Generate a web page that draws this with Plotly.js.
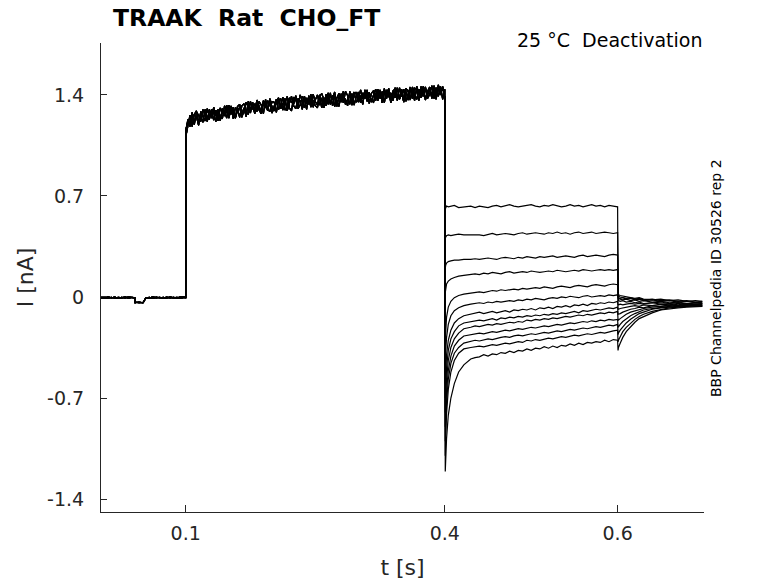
<!DOCTYPE html>
<html>
<head>
<meta charset="utf-8">
<script src="https://cdn.plot.ly/plotly-3.0.1.min.js"></script>
<style>
  body { margin: 0; background: #fff; }
  #plot { width: 778px; height: 583px; }
</style>
</head>
<body>
<div id="plot"></div>
<script>
//Time points of the holding period before the step (s)
var tHold = [0.002,0.006,0.01,0.014,0.018,0.022,0.026,0.03,0.034,0.038,0.041,0.0415,0.046,0.0505,0.051,0.054,0.058,0.062,0.066,0.07,0.074,0.078,0.082,0.086,0.09,0.094,0.098,0.1];
//Holding current (nA), two sweeps are enough, they overlap
var holdA = [-0.002,-0.008,0.0,-0.006,-0.001,-0.009,-0.003,-0.007,0.001,-0.005,-0.004,-0.036,-0.04,-0.035,-0.038,-0.004,-0.008,0.0,-0.006,-0.002,-0.009,-0.001,-0.007,-0.003,-0.008,0.0,-0.005,-0.003];
var holdB = [-0.007,-0.001,-0.009,-0.002,-0.008,-0.003,-0.006,0.0,-0.009,-0.002,-0.006,-0.04,-0.035,-0.041,-0.036,-0.007,-0.002,-0.009,-0.001,-0.007,-0.003,-0.008,0.0,-0.006,-0.002,-0.009,-0.003,-0.006];

//Time points of the activating step (s)
var tStep = [0.1005,
    0.1025,0.105,0.1075,0.11,0.1125,0.115,0.1175,0.12,
    0.1225,0.125,0.1275,0.13,0.1325,0.135,0.1375,0.14,
    0.1425,0.145,0.1475,0.15,0.1525,0.155,0.1575,0.16,
    0.1625,0.165,0.1675,0.17,0.1725,0.175,0.1775,0.18,
    0.1825,0.185,0.1875,0.19,0.1925,0.195,0.1975,0.2,
    0.2025,0.205,0.2075,0.21,0.2125,0.215,0.2175,0.22,
    0.2225,0.225,0.2275,0.23,0.2325,0.235,0.2375,0.24,
    0.2425,0.245,0.2475,0.25,0.2525,0.255,0.2575,0.26,
    0.2625,0.265,0.2675,0.27,0.2725,0.275,0.2775,0.28,
    0.2825,0.285,0.2875,0.29,0.2925,0.295,0.2975,0.3,
    0.3025,0.305,0.3075,0.31,0.3125,0.315,0.3175,0.32,
    0.3225,0.325,0.3275,0.33,0.3325,0.335,0.3375,0.34,
    0.3425,0.345,0.3475,0.35,0.3525,0.355,0.3575,0.36,
    0.3625,0.365,0.3675,0.37,0.3725,0.375,0.3775,0.38,
    0.3825,0.385,0.3875,0.39,0.3925,0.395,0.3975,0.4];
//Step current (nA), the sweeps all lie in one noisy band
var stepA = [1.15,
    1.23,1.18,1.28,1.215,1.25,1.19,1.285,1.25,
    1.22,1.305,1.25,1.28,1.225,1.295,1.22,1.31,
    1.285,1.255,1.33,1.24,1.305,1.285,1.24,1.32,
    1.335,1.265,1.31,1.25,1.355,1.295,1.33,1.27,
    1.345,1.295,1.27,1.36,1.33,1.29,1.375,1.315,
    1.29,1.35,1.38,1.305,1.335,1.375,1.29,1.35,
    1.39,1.325,1.305,1.375,1.36,1.30,1.39,1.34,
    1.375,1.315,1.405,1.355,1.33,1.40,1.31,1.38,
    1.355,1.415,1.335,1.395,1.32,1.38,1.41,1.35,
    1.425,1.335,1.375,1.405,1.33,1.40,1.42,1.35,
    1.395,1.335,1.435,1.365,1.42,1.35,1.40,1.44,
    1.36,1.435,1.345,1.415,1.395,1.445,1.355,1.43,
    1.38,1.45,1.37,1.41,1.35,1.445,1.425,1.365,
    1.455,1.40,1.37,1.44,1.39,1.46,1.365,1.425,
    1.455,1.385,1.435,1.37,1.47,1.41,1.45,1.38];
var stepB = [1.12,
    1.18,1.26,1.18,1.265,1.29,1.21,1.255,1.21,
    1.30,1.245,1.23,1.30,1.275,1.215,1.30,1.25,
    1.235,1.325,1.28,1.25,1.325,1.235,1.31,1.30,
    1.245,1.325,1.34,1.28,1.265,1.355,1.30,1.34,
    1.285,1.355,1.33,1.27,1.37,1.30,1.285,1.355,
    1.35,1.28,1.36,1.375,1.295,1.345,1.39,1.31,
    1.29,1.385,1.365,1.315,1.40,1.36,1.31,1.38,
    1.335,1.405,1.315,1.365,1.40,1.33,1.38,1.31,
    1.405,1.335,1.415,1.325,1.39,1.36,1.32,1.41,
    1.345,1.425,1.395,1.335,1.41,1.33,1.39,1.42,
    1.345,1.415,1.375,1.435,1.34,1.41,1.43,1.36,
    1.44,1.375,1.425,1.345,1.435,1.385,1.415,1.36,
    1.43,1.36,1.45,1.39,1.44,1.355,1.405,1.455,
    1.375,1.45,1.43,1.36,1.46,1.39,1.445,1.375,
    1.405,1.465,1.375,1.45,1.39,1.46,1.37,1.44];
var stepC = [1.17,
    1.21,1.21,1.25,1.195,1.28,1.26,1.215,1.30,
    1.25,1.215,1.30,1.24,1.315,1.255,1.29,1.22,
    1.305,1.285,1.24,1.33,1.265,1.315,1.24,1.29,
    1.315,1.245,1.29,1.35,1.315,1.275,1.35,1.29,
    1.365,1.315,1.28,1.34,1.31,1.36,1.335,1.275,
    1.32,1.37,1.30,1.325,1.385,1.295,1.32,1.38,
    1.35,1.335,1.395,1.305,1.33,1.39,1.37,1.30,
    1.395,1.345,1.365,1.325,1.31,1.39,1.41,1.36,
    1.325,1.385,1.355,1.375,1.42,1.32,1.39,1.37,
    1.395,1.365,1.325,1.425,1.38,1.42,1.35,1.37,
    1.435,1.375,1.415,1.355,1.40,1.36,1.35,1.41,
    1.38,1.405,1.365,1.445,1.375,1.425,1.345,1.42,
    1.45,1.39,1.38,1.44,1.37,1.425,1.365,1.435,
    1.425,1.36,1.46,1.41,1.38,1.42,1.455,1.395,
    1.445,1.375,1.465,1.41,1.44,1.40,1.46,1.38];

//Time points of the deactivation step (s)
var tTail = [0.4005,0.401,0.402,0.404,0.407,0.411,0.416,0.422,0.43,0.435,0.44,0.445,0.45,0.455,0.46,0.465,0.47,0.475,0.48,0.485,0.49,0.495,0.5,0.505,0.51,0.515,0.52,0.525,0.53,0.535,0.54,0.545,0.55,0.555,0.56,0.565,0.57,0.575,0.58,0.585,0.59,0.595,0.6];
//Tail current of each sweep (nA)
var tail1 = [0.61,0.62,0.63,0.625,0.63,0.635,0.62,0.625,0.63,0.62,0.63,0.625,0.62,0.63,0.635,0.625,0.63,0.64,0.63,0.625,0.63,0.635,0.64,0.63,0.625,0.635,0.63,0.64,0.63,0.625,0.63,0.64,0.63,0.635,0.625,0.63,0.64,0.63,0.635,0.625,0.635,0.63,0.625];
var tail2 = [0.41,0.42,0.425,0.43,0.425,0.43,0.435,0.43,0.43,0.435,0.43,0.425,0.435,0.44,0.43,0.435,0.44,0.435,0.43,0.44,0.445,0.435,0.44,0.445,0.44,0.435,0.445,0.44,0.45,0.44,0.445,0.435,0.445,0.45,0.44,0.445,0.45,0.44,0.445,0.45,0.445,0.44,0.445];
var tail3 = [0.2,0.22,0.235,0.245,0.25,0.255,0.255,0.26,0.26,0.265,0.26,0.265,0.27,0.265,0.26,0.27,0.275,0.27,0.265,0.275,0.27,0.28,0.275,0.27,0.28,0.275,0.28,0.285,0.275,0.28,0.285,0.28,0.275,0.285,0.29,0.28,0.285,0.29,0.285,0.28,0.29,0.295,0.29];
var tail4 = [0.03,0.06,0.09,0.11,0.125,0.135,0.145,0.15,0.155,0.16,0.155,0.165,0.16,0.17,0.165,0.16,0.17,0.175,0.165,0.17,0.175,0.17,0.18,0.175,0.17,0.175,0.18,0.175,0.185,0.18,0.175,0.18,0.185,0.18,0.19,0.185,0.18,0.185,0.19,0.185,0.19,0.185,0.19];
var tail5 = [-0.3,-0.22,-0.14,-0.07,-0.03,-0.005,0.01,0.02,0.025,0.03,0.035,0.03,0.04,0.045,0.04,0.05,0.045,0.05,0.055,0.05,0.06,0.055,0.06,0.065,0.06,0.07,0.065,0.06,0.07,0.075,0.07,0.065,0.075,0.08,0.075,0.07,0.08,0.085,0.08,0.075,0.085,0.09,0.085];
var tail6 = [-0.48,-0.38,-0.28,-0.19,-0.13,-0.095,-0.075,-0.06,-0.05,-0.045,-0.04,-0.045,-0.035,-0.04,-0.03,-0.035,-0.03,-0.025,-0.03,-0.02,-0.025,-0.015,-0.02,-0.01,-0.015,-0.02,-0.01,-0.005,-0.01,0.0,-0.005,0.005,0.0,-0.005,0.005,0.01,0.0,0.005,0.01,0.005,0.015,0.01,0.015];
var tail7 = [-0.6,-0.5,-0.4,-0.3,-0.23,-0.18,-0.15,-0.13,-0.12,-0.115,-0.105,-0.115,-0.11,-0.1,-0.11,-0.1,-0.095,-0.105,-0.09,-0.095,-0.085,-0.09,-0.08,-0.09,-0.075,-0.08,-0.07,-0.08,-0.065,-0.07,-0.06,-0.07,-0.055,-0.06,-0.05,-0.06,-0.045,-0.05,-0.04,-0.045,-0.035,-0.04,-0.03];
var tail8 = [-0.7,-0.6,-0.49,-0.37,-0.29,-0.24,-0.2,-0.18,-0.17,-0.165,-0.16,-0.165,-0.155,-0.15,-0.16,-0.145,-0.15,-0.14,-0.145,-0.135,-0.14,-0.13,-0.135,-0.125,-0.13,-0.12,-0.125,-0.115,-0.12,-0.11,-0.115,-0.105,-0.1,-0.11,-0.095,-0.1,-0.09,-0.085,-0.09,-0.08,-0.075,-0.08,-0.07];
var tail9 = [-0.8,-0.69,-0.57,-0.44,-0.35,-0.29,-0.25,-0.22,-0.21,-0.2,-0.205,-0.195,-0.19,-0.195,-0.185,-0.19,-0.18,-0.175,-0.18,-0.17,-0.175,-0.16,-0.165,-0.155,-0.16,-0.15,-0.155,-0.145,-0.15,-0.14,-0.135,-0.14,-0.13,-0.125,-0.13,-0.12,-0.125,-0.115,-0.11,-0.115,-0.105,-0.11,-0.1];
var tail10 = [-0.9,-0.78,-0.65,-0.51,-0.41,-0.34,-0.3,-0.27,-0.26,-0.255,-0.25,-0.255,-0.245,-0.24,-0.245,-0.235,-0.23,-0.235,-0.225,-0.22,-0.225,-0.215,-0.21,-0.215,-0.205,-0.2,-0.205,-0.195,-0.19,-0.195,-0.185,-0.18,-0.185,-0.175,-0.17,-0.175,-0.165,-0.17,-0.16,-0.165,-0.155,-0.16,-0.155];
var tail11 = [-1.0,-0.87,-0.73,-0.57,-0.46,-0.39,-0.35,-0.32,-0.31,-0.3,-0.305,-0.295,-0.29,-0.295,-0.285,-0.28,-0.275,-0.28,-0.27,-0.265,-0.27,-0.26,-0.255,-0.26,-0.25,-0.245,-0.25,-0.24,-0.235,-0.24,-0.23,-0.225,-0.23,-0.22,-0.215,-0.22,-0.21,-0.205,-0.21,-0.2,-0.195,-0.2,-0.19];
var tail12 = [-1.1,-0.96,-0.81,-0.64,-0.52,-0.44,-0.39,-0.36,-0.35,-0.345,-0.34,-0.345,-0.335,-0.33,-0.335,-0.325,-0.32,-0.325,-0.315,-0.31,-0.315,-0.3,-0.305,-0.295,-0.3,-0.29,-0.285,-0.29,-0.28,-0.275,-0.28,-0.27,-0.265,-0.27,-0.26,-0.255,-0.26,-0.25,-0.245,-0.25,-0.24,-0.235,-0.23];
var tail13 = [-1.21,-1.1,-0.98,-0.82,-0.7,-0.6,-0.52,-0.47,-0.43,-0.42,-0.415,-0.4,-0.41,-0.395,-0.4,-0.385,-0.39,-0.375,-0.385,-0.37,-0.375,-0.36,-0.37,-0.355,-0.36,-0.345,-0.355,-0.34,-0.35,-0.335,-0.34,-0.325,-0.335,-0.32,-0.33,-0.315,-0.32,-0.31,-0.315,-0.3,-0.31,-0.295,-0.3];

//Time points after returning to holding (s)
var tBack = [0.6005,0.601,0.603,0.606,0.61,0.615,0.62,0.625,0.63,0.64,0.65,0.66,0.67,0.68,0.69,0.698];
//Current after returning to holding (nA)
var back1 = [0.02,0.015,0.01,0.005,0.0,-0.005,-0.01,-0.005,-0.015,-0.02,-0.015,-0.025,-0.02,-0.03,-0.025,-0.03];
var back2 = [0.01,0.005,0.0,-0.005,-0.01,-0.005,-0.015,-0.01,-0.02,-0.015,-0.025,-0.02,-0.03,-0.025,-0.035,-0.03];
var back3 = [0.0,-0.005,-0.01,-0.005,-0.015,-0.01,-0.02,-0.015,-0.025,-0.02,-0.03,-0.025,-0.035,-0.03,-0.04,-0.035];
var back4 = [-0.005,-0.01,-0.015,-0.02,-0.015,-0.025,-0.02,-0.03,-0.025,-0.035,-0.03,-0.04,-0.035,-0.045,-0.04,-0.04];
var back5 = [-0.02,-0.025,-0.03,-0.025,-0.035,-0.03,-0.04,-0.035,-0.045,-0.04,-0.035,-0.045,-0.04,-0.05,-0.04,-0.045];
var back6 = [-0.05,-0.055,-0.05,-0.055,-0.05,-0.045,-0.05,-0.045,-0.05,-0.04,-0.05,-0.045,-0.055,-0.045,-0.05,-0.045];
var back7 = [-0.08,-0.085,-0.08,-0.075,-0.07,-0.065,-0.06,-0.065,-0.055,-0.06,-0.05,-0.055,-0.045,-0.055,-0.05,-0.05];
var back8 = [-0.12,-0.12,-0.115,-0.105,-0.095,-0.085,-0.08,-0.07,-0.075,-0.06,-0.065,-0.055,-0.06,-0.05,-0.055,-0.05];
var back9 = [-0.16,-0.16,-0.15,-0.135,-0.12,-0.105,-0.095,-0.085,-0.08,-0.07,-0.065,-0.06,-0.065,-0.055,-0.06,-0.055];
var back10 = [-0.21,-0.205,-0.19,-0.17,-0.15,-0.13,-0.115,-0.1,-0.09,-0.08,-0.07,-0.065,-0.06,-0.065,-0.055,-0.06];
var back11 = [-0.26,-0.25,-0.23,-0.205,-0.18,-0.155,-0.135,-0.115,-0.105,-0.085,-0.075,-0.07,-0.065,-0.06,-0.065,-0.06];
var back12 = [-0.31,-0.3,-0.275,-0.24,-0.21,-0.18,-0.155,-0.135,-0.12,-0.1,-0.085,-0.075,-0.07,-0.065,-0.06,-0.065];
var back13 = [-0.37,-0.35,-0.32,-0.28,-0.24,-0.205,-0.175,-0.15,-0.135,-0.11,-0.09,-0.08,-0.075,-0.07,-0.065,-0.065];

//Axis ticks
var xTicks = [0.1, 0.4, 0.6];
var xTickText = ['0.1', '0.4', '0.6'];
var yTicks = [-1.4, -0.7, 0, 0.7, 1.4];
var yTickText = ['-1.4', '-0.7', '0', '0.7', '1.4'];

var holds = [holdA, holdB];
var steps = [stepA, stepB, stepC];
var tails = [tail1, tail2, tail3, tail4, tail5, tail6, tail7, tail8, tail9, tail10, tail11, tail12, tail13];
var backs = [back1, back2, back3, back4, back5, back6, back7, back8, back9, back10, back11, back12, back13];

//One line per sweep, put together from the four parts of the protocol
var data = [];
for (var i = 0; i < tails.length; i++) {
    data.push({
        x: tHold.concat(tStep, tTail, tBack),
        y: holds[i % 2].concat(steps[i % 3], tails[i], backs[i]),
        type: 'scatter',
        mode: 'lines',
        line: { color: '#000', width: 1.2 },
        hoverinfo: 'skip',
        showlegend: false
    });
}

var font = 'DejaVu Sans, sans-serif';
var sp = '\u00a0\u00a0';

var layout = {
    width: 778,
    height: 583,
    paper_bgcolor: '#fff',
    plot_bgcolor: '#fff',
    margin: { l: 101, r: 74, t: 43, b: 71 },
    title: {
        text: '<b>TRAAK' + sp + 'Rat' + sp + 'CHO_FT</b>',
        font: { family: font, size: 23.5, color: '#000' },
        xref: 'container', yref: 'container',
        x: 113 / 778, xanchor: 'left',
        y: 1 - 18 / 583, yanchor: 'middle'
    },
    xaxis: {
        range: [0.002, 0.7],
        tickvals: xTicks,
        ticktext: xTickText,
        ticks: 'inside',
        ticklen: 7,
        tickcolor: '#262626',
        tickfont: { family: font, size: 19, color: '#262626' },
        ticklabelstandoff: 4,
        showline: true,
        linecolor: '#262626',
        linewidth: 1,
        showgrid: false,
        zeroline: false,
        title: { text: 't [s]', font: { family: font, size: 22, color: '#262626' }, standoff: 16 }
    },
    yaxis: {
        range: [-1.49, 1.76],
        tickvals: yTicks,
        ticktext: yTickText,
        ticks: 'inside',
        ticklen: 6,
        tickcolor: '#262626',
        tickfont: { family: font, size: 19, color: '#262626' },
        ticklabelstandoff: 12,
        showline: true,
        linecolor: '#262626',
        linewidth: 1,
        showgrid: false,
        zeroline: false,
        title: { text: 'I [nA]', font: { family: font, size: 22, color: '#262626' }, standoff: 7 }
    },
    annotations: [
        {
            text: '25 °C' + sp + 'Deactivation',
            xref: 'paper', yref: 'paper',
            x: 1, xanchor: 'right',
            y: 1 + 3 / 469, yanchor: 'middle',
            showarrow: false,
            font: { family: font, size: 19, color: '#000' }
        },
        {
            text: 'BBP Channelpedia ID 30526 rep 2',
            xref: 'paper', yref: 'paper',
            x: 1 + 12 / 603, xanchor: 'center',
            y: (512 - 278) / 469, yanchor: 'middle',
            textangle: -90,
            showarrow: false,
            font: { family: font, size: 14, color: '#000' }
        }
    ]
};

Plotly.newPlot('plot', data, layout, { staticPlot: true });
</script>
</body>
</html>
